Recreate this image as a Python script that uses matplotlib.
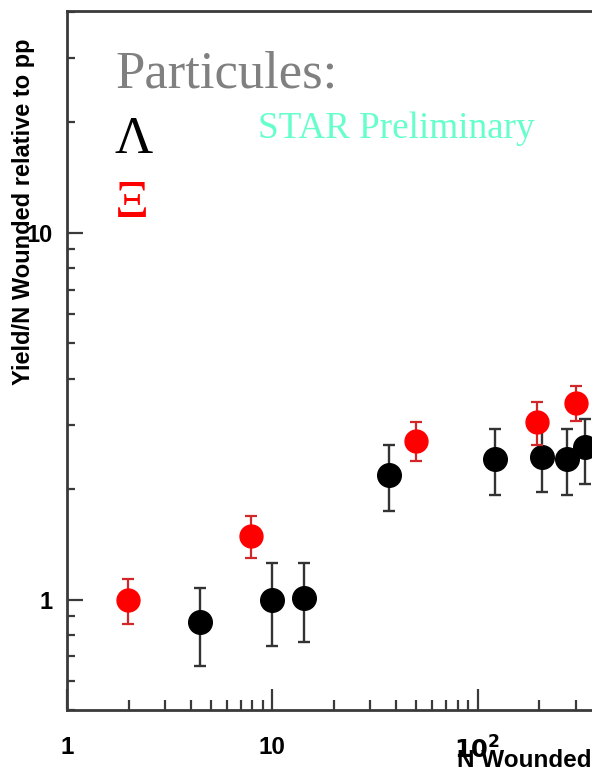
import matplotlib
matplotlib.use("Agg")
import matplotlib.pyplot as plt
from matplotlib.ticker import FixedLocator, FixedFormatter, LogLocator, NullFormatter

# Data (N wounded, yield/N wounded relative to pp, error up, error down)
lam_x = [4.44, 10.0, 14.2, 36.9, 121, 205, 271, 332]
lam_y = [0.871, 1.00, 1.01, 2.18, 2.42, 2.45, 2.41, 2.60]
lam_hi = [1.078, 1.254, 1.254, 2.63, 2.92, 2.95, 2.91, 3.11]
lam_lo = [0.661, 0.749, 0.764, 1.74, 1.93, 1.96, 1.93, 2.07]

xi_x = [1.98, 7.86, 49.9, 194, 300]
xi_y = [1.00, 1.494, 2.71, 3.05, 3.44]
xi_hi = [1.14, 1.694, 3.05, 3.46, 3.83]
xi_lo = [0.86, 1.30, 2.38, 2.63, 3.07]

x_ticks = [1, 10, 100]
x_labels = ["1", "10", r"$\mathbf{10^{2}}$"]
y_ticks = [1, 10]
y_labels = ["1", "10"]

fig = plt.figure(figsize=(5.92, 7.74), dpi=100)
W, H = 592, 774
ax = fig.add_axes([67 / W, (H - 710) / H, 616 / W, (710 - 11) / H])
ax.set_xscale("log")
ax.set_yscale("log")
ax.set_xlim(1, 1000)
ax.set_ylim(0.5, 40.2)

def yerr(y, hi, lo):
    return [[a - b for a, b in zip(y, lo)], [b - a for a, b in zip(y, hi)]]

ax.errorbar(lam_x, lam_y, yerr=yerr(lam_y, lam_hi, lam_lo), fmt="o",
            color="black", ecolor="#333333", elinewidth=1.7, capsize=4.5,
            capthick=1.7, markersize=17, zorder=3)
ax.errorbar(xi_x, xi_y, yerr=yerr(xi_y, xi_hi, xi_lo), fmt="o",
            color="#ff0000", ecolor="#d02828", elinewidth=1.6, capsize=4.5,
            capthick=1.6, markersize=16.5, zorder=4)

spine_col = "#3a3a3a"
for s in ax.spines.values():
    s.set_linewidth(2.0)
    s.set_color(spine_col)
ax.spines["right"].set_visible(False)

ax.xaxis.set_major_locator(FixedLocator(x_ticks))
ax.xaxis.set_major_formatter(FixedFormatter(x_labels))
ax.yaxis.set_major_locator(FixedLocator(y_ticks))
ax.yaxis.set_major_formatter(FixedFormatter(y_labels))
ax.xaxis.set_minor_locator(LogLocator(base=10, subs=range(2, 10)))
ax.yaxis.set_minor_locator(LogLocator(base=10, subs=range(2, 10)))
ax.xaxis.set_minor_formatter(NullFormatter())
ax.yaxis.set_minor_formatter(NullFormatter())

ax.tick_params(axis="x", which="major", direction="in", length=15, width=1.6,
               color=spine_col, pad=19, labelsize=17.5)
ax.tick_params(axis="x", which="minor", direction="in", length=7, width=1.6,
               color=spine_col)
ax.tick_params(axis="y", which="major", direction="in", length=11.5, width=1.6,
               color=spine_col, pad=10, labelsize=17)
ax.tick_params(axis="y", which="minor", direction="in", length=6, width=1.6,
               color=spine_col)
ax.tick_params(top=False, right=False)
for lab in ax.get_xticklabels() + ax.get_yticklabels():
    lab.set_fontfamily("Liberation Sans")
    lab.set_fontweight("bold")

fig.text(24 / W, 1 - 212 / H, "Yield/N Wounded relative to pp", rotation=90,
         ha="center", va="center", fontsize=17, fontweight="bold",
         family="Liberation Sans")
fig.text(457 / W, 1 - 767 / H, "N Wounded", ha="left", va="baseline",
         fontsize=17.5, fontweight="bold", family="Liberation Sans")

fig.text(115 / W, 1 - 88 / H, "Particules:", ha="left", va="baseline",
         fontsize=38, color="#808080", family="Liberation Serif")
fig.text(115 / W, 1 - 153 / H, "Λ", ha="left", va="baseline",
         fontsize=38, color="black", family="Liberation Serif")
fig.text(115 / W, 1 - 217 / H, "Ξ", ha="left", va="baseline",
         fontsize=38, color="#ff0000", family="Liberation Serif")
fig.text(258 / W, 1 - 138 / H, "STAR Preliminary", ha="left", va="baseline",
         fontsize=26.7, color="#66ffcc", family="Liberation Serif")

fig.savefig("out.png", dpi=100)
